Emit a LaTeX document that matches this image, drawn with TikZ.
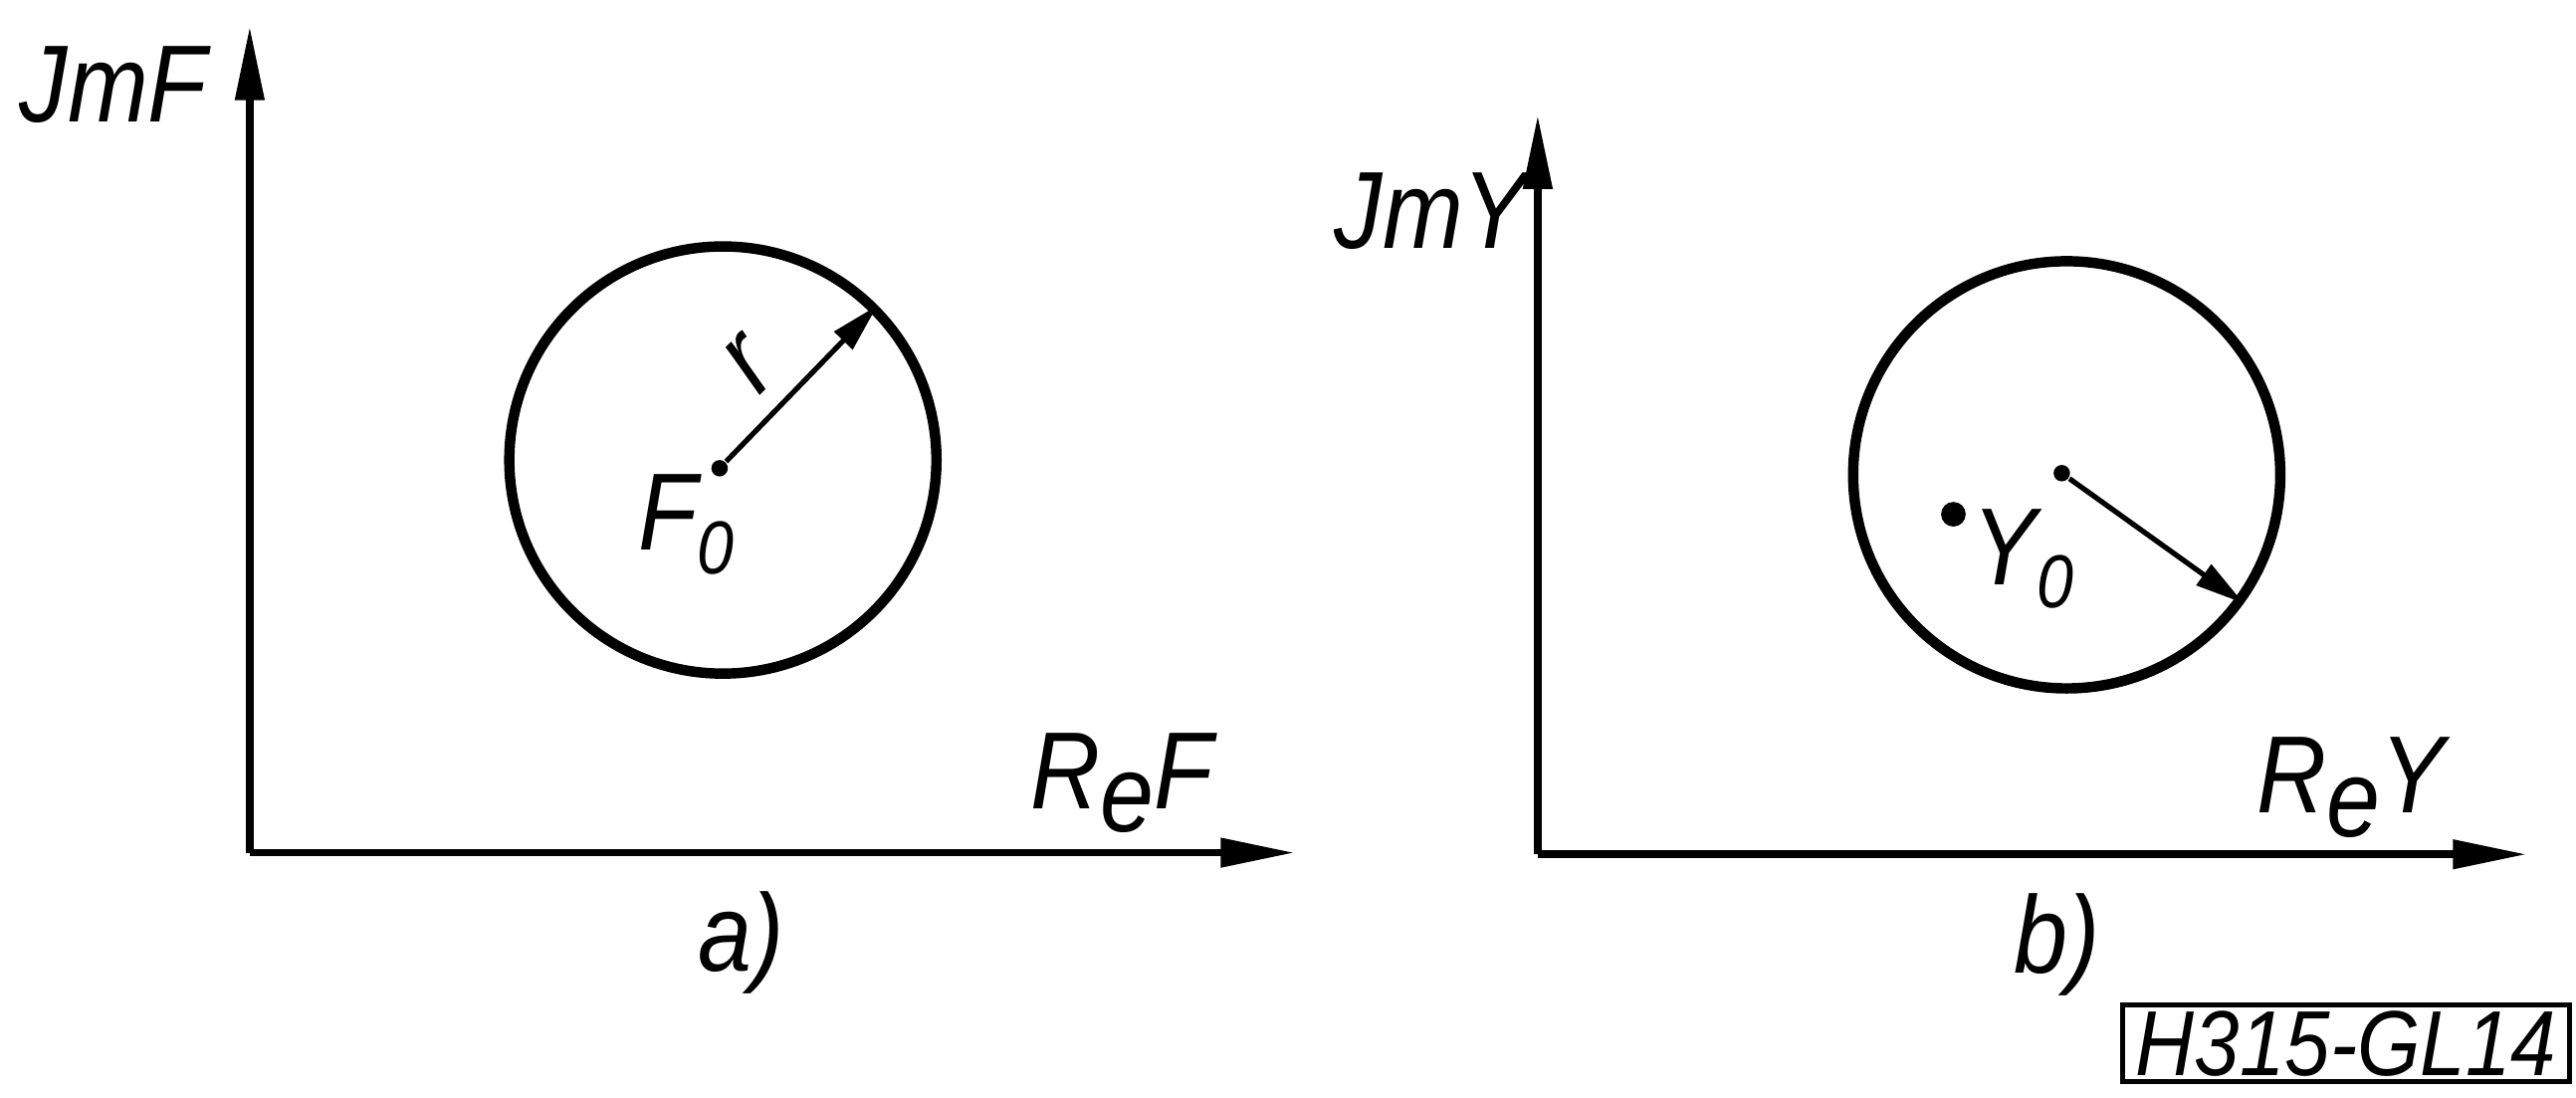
\documentclass[tikz,border=0pt]{standalone}
\usepackage{fontspec}
\newfontfamily\rotulo{Liberation Sans}[FakeStretch=0.88]
\usetikzlibrary{arrows.meta}
\tikzset{
  eje/.style={line width=1.3pt, -{Triangle[length=4.5mm,width=1.7mm]}},
  circulo/.style={circle, draw, line width=1.8pt, minimum size=2.6cm, inner sep=0pt},
  radio/.style={line width=0.9pt, -{Triangle[length=3mm,width=1.5mm]}},
  punto/.style={circle, fill, inner sep=0pt, minimum size=1mm},
  etiq/.style={font=\rotulo\itshape\fontsize{19}{22}\selectfont, inner sep=0pt},
  marca/.style={draw, line width=0.9pt, font=\rotulo\itshape\fontsize{16}{18}\selectfont,
                minimum width=2.72cm, minimum height=0.44cm, inner sep=1pt}
}
\newcommand{\subi}[1]{\raisebox{-4pt}{\fontsize{13}{15}\selectfont #1}}
\newcommand{\sube}{\raisebox{-4pt}{e}}

\begin{document}
\begin{tikzpicture}
\useasboundingbox (0,0) rectangle (15.68,6.68);

% a)
\coordinate (o1) at (1.52,1.49);
\coordinate (y1) at (1.52,6.52);
\coordinate (x1) at (7.88,1.49);
\draw[eje] (o1) -- (y1);
\draw[eje] (o1) -- (x1);

\node[circulo] (k1) at (4.40,3.88) {};
\node[punto] (f0) at (4.38,3.83) {};
\draw[radio] (f0) -- (k1.45);

\node[etiq, rotate=45] (rl) at (4.56,4.46) {r};
\node[etiq, anchor=base west] (f0l) at (3.88,3.33) {F\subi{0}};
\node[etiq, anchor=base] (imf) at (0.69,5.94) {JmF};
\node[etiq, anchor=base] (ref) at (6.83,1.76) {R\sube F};
\node[etiq, anchor=base] (la) at (4.51,0.77) {a)};

% b)
\coordinate (o2) at (9.36,1.48);
\coordinate (y2) at (9.36,5.98);
\coordinate (x2) at (15.38,1.48);
\draw[eje] (o2) -- (y2);
\draw[eje] (o2) -- (x2);

\node[circulo] (k2) at (12.58,3.79) {};
\node[punto] (m2) at (12.55,3.80) {};
\draw[radio] (m2) -- (k2.-36);
\node[punto, minimum size=1.5mm] (y0) at (11.89,3.55) {};

\node[etiq, anchor=base west] (y0l) at (12.00,3.12) {Y\subi{0}};
\node[etiq, anchor=base] (imy) at (8.71,5.17) {JmY};
\node[etiq, anchor=base] (rey) at (14.31,1.73) {R\sube Y};
\node[etiq, anchor=base] (lb) at (12.52,0.76) {b)};

\node[marca] (hoja) at (14.28,0.33) {H315-GL14};
\end{tikzpicture}
\end{document}
